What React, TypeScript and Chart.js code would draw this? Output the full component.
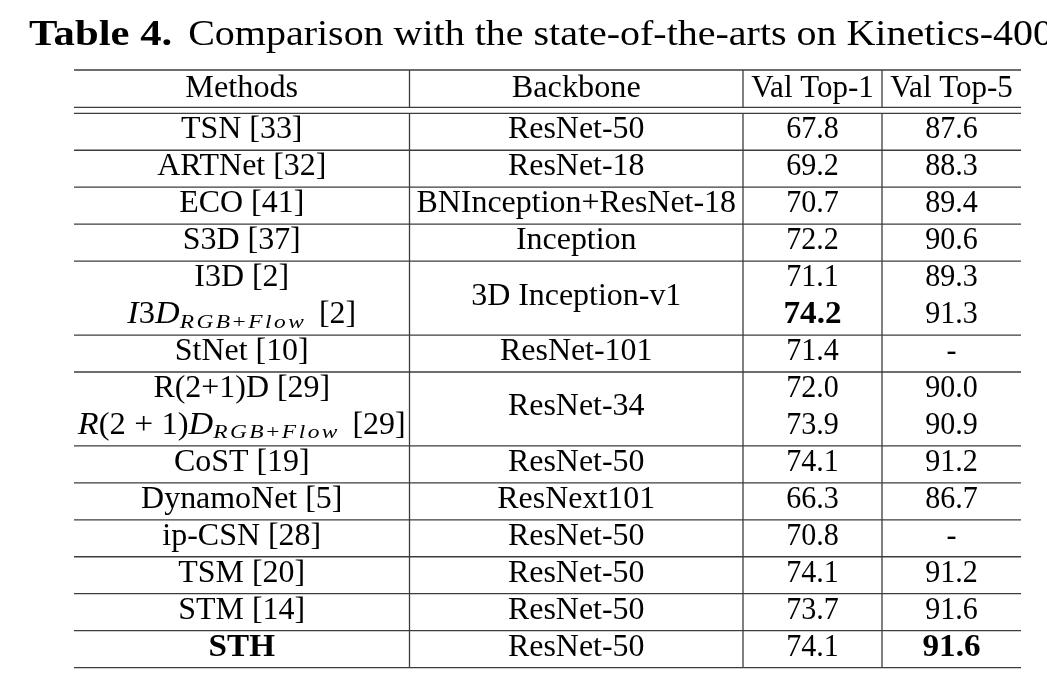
import React, { useEffect, useRef } from 'react';
import { Chart, registerables } from 'chart.js';

Chart.register(...registerables);

// ---------------- data ----------------
const titleBold = 'Table 4.';
const titleRest = 'Comparison with the state-of-the-arts on Kinetics-400';

const headers = ['Methods', 'Backbone', 'Val Top-1', 'Val Top-5'];

const methods = [
  'TSN [33]',
  'ARTNet [32]',
  'ECO [41]',
  'S3D [37]',
  'I3D [2]',
  'I3D_{RGB+Flow} [2]',
  'StNet [10]',
  'R(2+1)D [29]',
  'R(2+1)D_{RGB+Flow} [29]',
  'CoST [19]',
  'DynamoNet [5]',
  'ip-CSN [28]',
  'TSM [20]',
  'STM [14]',
  'STH',
];

// backbone label, first row index, number of rows spanned
const backbones: [string, number, number][] = [
  ['ResNet-50', 0, 1],
  ['ResNet-18', 1, 1],
  ['BNInception+ResNet-18', 2, 1],
  ['Inception', 3, 1],
  ['3D Inception-v1', 4, 2],
  ['ResNet-101', 6, 1],
  ['ResNet-34', 7, 2],
  ['ResNet-50', 9, 1],
  ['ResNext101', 10, 1],
  ['ResNet-50', 11, 1],
  ['ResNet-50', 12, 1],
  ['ResNet-50', 13, 1],
  ['ResNet-50', 14, 1],
];

const top1 = ['67.8', '69.2', '70.7', '72.2', '71.1', '74.2', '71.4', '72.0', '73.9', '74.1', '66.3', '70.8', '74.1', '73.7', '74.1'];
const top5 = ['87.6', '88.3', '89.4', '90.6', '89.3', '91.3', '-', '90.0', '90.9', '91.2', '86.7', '-', '91.2', '91.6', '91.6'];

const boldMethods = [14];
const boldTop1 = [5];
const boldTop5 = [14];

// row boundaries (in row units) that carry no horizontal rule (inside merged cells)
const mergedBoundaries = [5, 8];

// ---------------- layout (not data) ----------------
const W = 1047;
const H = 682;
const colEdges = [0, 335.5, 669, 808, 947]; // x scale units
const headerTop = -1.172; // y scale units
const doubleRule = -0.162;
const nRows = methods.length;
const FONT = '"Liberation Serif", "Times New Roman", serif';
const SIZE = 31;
const SUB = 18;
const INK = '#000000';
const RULE = '#3c3c3c';

type Seg = { t: string; italic?: boolean; bold?: boolean; sub?: boolean; sx?: number; track?: number; gap?: number };

function mathSegs(str: string, sub: boolean): Seg[] {
  const out: Seg[] = [];
  for (const ch of str) {
    if (/[A-Za-z]/.test(ch)) out.push({ t: ch, italic: true, sub, sx: sub ? 1.3 : 1.1, gap: sub ? 2.5 : 0 });
    else if (ch === '+') out.push({ t: sub ? '+' : ' + ', sub, sx: sub ? 1.3 : 1.08, gap: sub ? 2.5 : 0 });
    else out.push({ t: ch, sub, sx: sub ? 1.3 : 1.05, gap: sub ? 2.5 : 0 });
  }
  return out;
}

function parseMethod(s: string, bold: boolean): Seg[] {
  const m = s.match(/^(.*?)_\{(.*?)\}(.*)$/);
  if (!m) return [{ t: s, bold, sx: bold ? 1.07 : 1.03 }];
  const sub = mathSegs(m[2], true);
  sub[sub.length - 1].gap = 7;
  return [...mathSegs(m[1], false), ...sub, { t: m[3], bold, sx: 1.03 }];
}

function fontOf(s: Seg) {
  return `${s.italic ? 'italic ' : ''}${s.bold ? 'bold ' : ''}${s.sub ? SUB : SIZE}px ${FONT}`;
}

function drawSegs(ctx: CanvasRenderingContext2D, segs: Seg[], cx: number, baseline: number) {
  let total = 0;
  const widths = segs.map((s) => {
    ctx.font = fontOf(s);
    const w = ctx.measureText(s.t).width * (s.sx ?? 1) + (s.gap ?? 0);
    total += w;
    return w;
  });
  let x = cx - total / 2;
  ctx.textAlign = 'left';
  ctx.textBaseline = 'alphabetic';
  segs.forEach((s, i) => {
    ctx.font = fontOf(s);
    ctx.save();
    ctx.translate(x, baseline + (s.sub ? 4.5 : 0));
    ctx.scale(s.sx ?? 1, 1);
    ctx.fillText(s.t, 0, 0);
    ctx.restore();
    x += widths[i];
  });
}

const tablePlugin = {
  id: 'tableDraw',
  afterDatasetsDraw(chart: any) {
    const ctx: CanvasRenderingContext2D = chart.ctx;
    const xs = chart.scales.x;
    const ys = chart.scales.y;
    const px = (v: number) => xs.getPixelForValue(v);
    const py = (v: number) => ys.getPixelForValue(v);
    const left = px(colEdges[0]);
    const right = px(colEdges[colEdges.length - 1]);

    ctx.save();
    ctx.fillStyle = '#ffffff';
    ctx.fillRect(0, 0, W, H);

    // title (runs off the right edge, as in the source)
    ctx.fillStyle = INK;
    ctx.textAlign = 'left';
    ctx.textBaseline = 'alphabetic';
    const tBase = py(headerTop) - 25;
    const tx = left - 45;
    ctx.font = `bold 35px ${FONT}`;
    const bw = ctx.measureText(titleBold).width;
    const bsx = 1.22;
    ctx.save();
    ctx.translate(tx, tBase);
    ctx.scale(bsx, 1);
    ctx.fillText(titleBold, 0, 0);
    ctx.restore();
    ctx.font = `35px ${FONT}`;
    const restX = tx + bw * bsx + 16;
    const rw = ctx.measureText(titleRest).width;
    const rsx = (right + 32 - restX) / rw;
    ctx.save();
    ctx.translate(restX, tBase);
    ctx.scale(rsx, 1);
    ctx.fillText(titleRest, 0, 0);
    ctx.restore();

    // horizontal rules
    ctx.strokeStyle = RULE;
    ctx.lineWidth = 1.3;
    const hLine = (v: number) => {
      ctx.beginPath();
      ctx.moveTo(left, py(v));
      ctx.lineTo(right, py(v));
      ctx.stroke();
    };
    hLine(headerTop);
    hLine(doubleRule);
    for (let r = 0; r <= nRows; r++) {
      if (mergedBoundaries.includes(r)) continue;
      hLine(r);
    }

    // vertical rules (interior columns), broken at the double rule
    for (let c = 1; c < colEdges.length - 1; c++) {
      const x = px(colEdges[c]);
      ctx.beginPath();
      ctx.moveTo(x, py(headerTop));
      ctx.lineTo(x, py(doubleRule));
      ctx.moveTo(x, py(0));
      ctx.lineTo(x, py(nRows));
      ctx.stroke();
    }

    const colCenter = (c: number) => px((colEdges[c] + colEdges[c + 1]) / 2);
    const rowBase = (r: number, span = 1) => py(r + span / 2) + 6.5;

    // header
    ctx.fillStyle = INK;
    headers.forEach((h, c) => {
      drawSegs(ctx, [{ t: h, sx: c < 2 ? 1.04 : 1.0 }], colCenter(c), py((headerTop + doubleRule) / 2) + 8);
    });

    // body
    methods.forEach((m, r) => {
      drawSegs(ctx, parseMethod(m, boldMethods.includes(r)), colCenter(0), rowBase(r));
    });
    backbones.forEach(([b, r, span]) => {
      drawSegs(ctx, [{ t: b, sx: 1.03 }], colCenter(1), rowBase(r, span));
    });
    top1.forEach((v, r) => {
      const b = boldTop1.includes(r);
      drawSegs(ctx, [{ t: v, bold: b, sx: b ? 1.07 : 0.97 }], colCenter(2), rowBase(r));
    });
    top5.forEach((v, r) => {
      const b = boldTop5.includes(r);
      drawSegs(ctx, [{ t: v, bold: b, sx: b ? 1.07 : 0.97 }], colCenter(3), rowBase(r));
    });
    ctx.restore();
  },
};

export default function App() {
  const ref = useRef<HTMLCanvasElement | null>(null);
  useEffect(() => {
    document.body.style.margin = '0';
    const canvas = ref.current;
    if (!canvas) return;
    const cellPoints = methods.map((_, r) => ({ x: (colEdges[0] + colEdges[1]) / 2, y: r + 0.5 }));
    const chart = new Chart(canvas, {
      type: 'scatter',
      data: {
        datasets: [{ data: cellPoints, pointRadius: 0, pointHoverRadius: 0 }],
      },
      options: {
        animation: false,
        responsive: false,
        devicePixelRatio: 1,
        layout: { padding: { left: 74, right: W - 1021, top: 70, bottom: H - 667.6 } },
        plugins: { legend: { display: false }, tooltip: { enabled: false }, title: { display: false } },
        events: [],
        scales: {
          x: { type: 'linear', display: false, min: colEdges[0], max: colEdges[colEdges.length - 1] },
          y: { type: 'linear', display: false, min: headerTop, max: nRows, reverse: true },
        },
      },
      plugins: [tablePlugin],
    });
    return () => chart.destroy();
  }, []);
  return (
    <div style={{ position: 'absolute', left: 0, top: 0, width: W, height: H, background: '#fff' }}>
      <canvas ref={ref} width={W} height={H} style={{ display: 'block', width: W, height: H }} />
    </div>
  );
}
